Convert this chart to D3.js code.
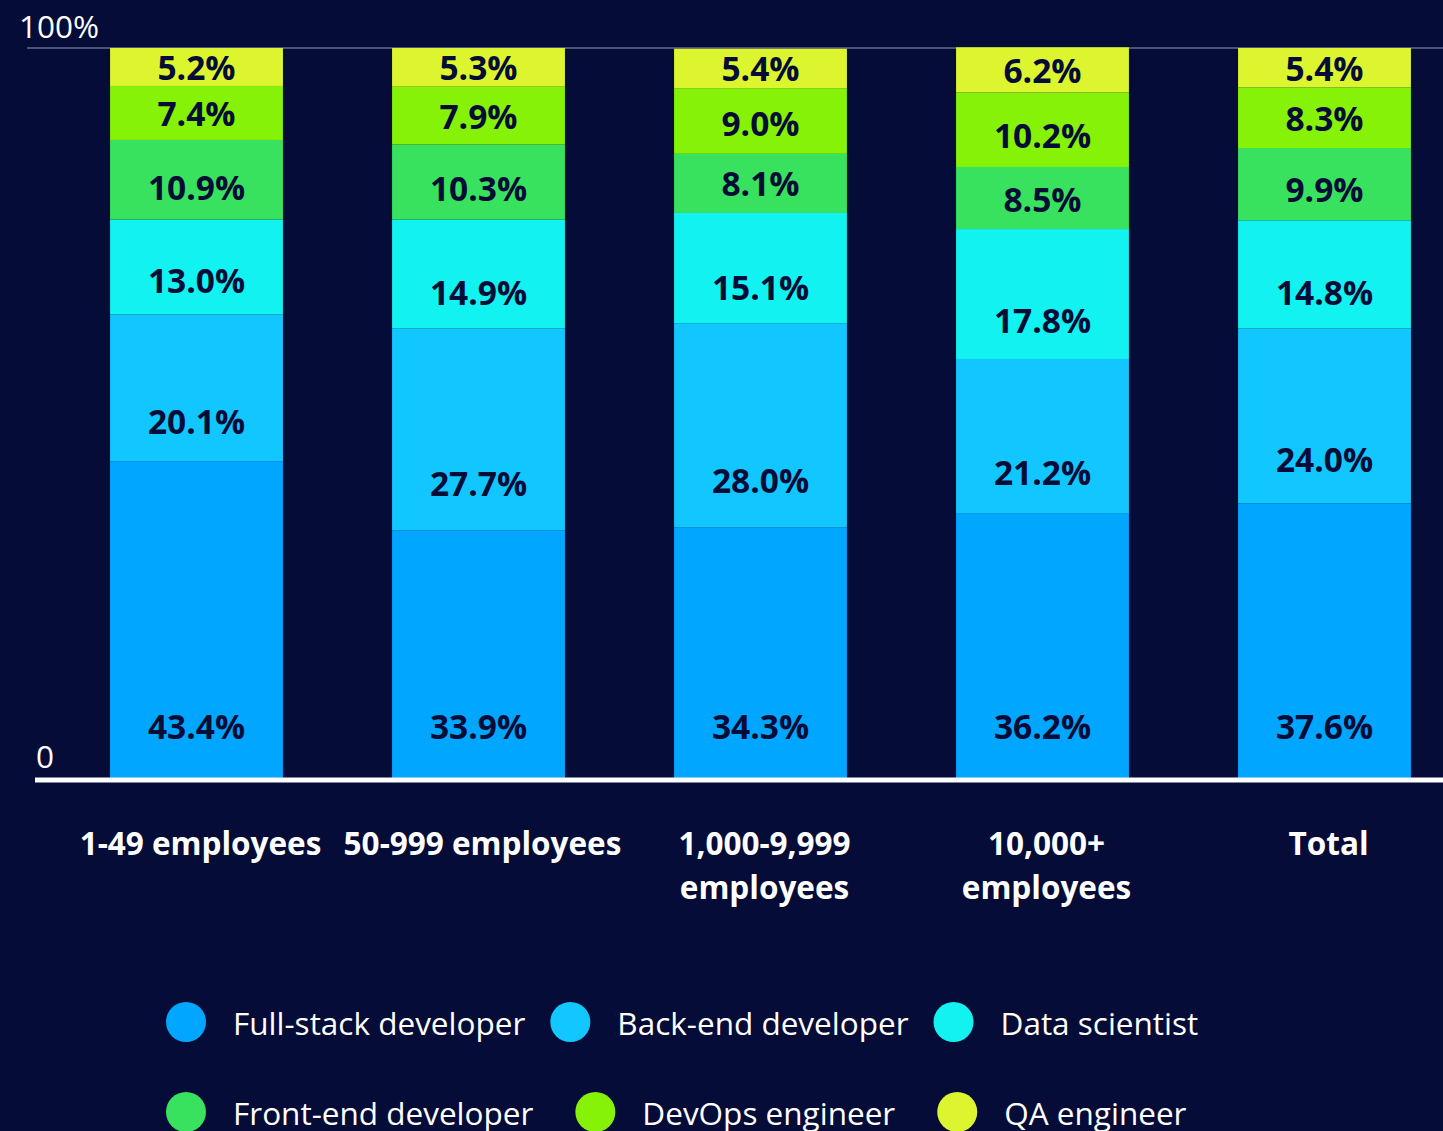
<!DOCTYPE html>
<html>
<head>
<meta charset="utf-8">
<script src="https://cdn.jsdelivr.net/npm/d3@7"></script>
<style>
  html, body { margin: 0; padding: 0; background: #040c37; }
  svg { display: block; font-family: "Open Sans", "Noto Sans", sans-serif; }
</style>
</head>
<body>
<div id="chart"></div>
<script>
const categories = ['1-49 employees', '50-999 employees', '1,000-9,999 employees', '10,000+ employees', 'Total'];
const roles = ['Full-stack developer', 'Back-end developer', 'Data scientist', 'Front-end developer', 'DevOps engineer', 'QA engineer'];

// share of each role per company size, same order as categories
const fullStack = [43.4, 33.9, 34.3, 36.2, 37.6];
const backEnd = [20.1, 27.7, 28.0, 21.2, 24.0];
const dataScientist = [13.0, 14.9, 15.1, 17.8, 14.8];
const frontEnd = [10.9, 10.3, 8.1, 8.5, 9.9];
const devOps = [7.4, 7.9, 9.0, 10.2, 8.3];
const qa = [5.2, 5.3, 5.4, 6.2, 5.4];

const yTicks = [0, 100];
const yTickLabels = ['0', '100%'];

const colors = ['#00a6ff', '#12c6ff', '#12f2f0', '#38e25e', '#85f208', '#dcf52e'];

const width = 1443, height = 1131;
const bg = '#040c37';
const inkDark = '#050c36';
const fontSize = 31.5;

const series = [fullStack, backEnd, dataScientist, frontEnd, devOps, qa];
const table = categories.map((c, i) => {
  const row = { cat: c };
  roles.forEach((r, j) => { row[r] = series[j][i]; });
  return row;
});

const stacked = d3.stack().keys(roles)(table);

const x = d3.scaleBand()
  .domain(categories)
  .range([55.5, 1465.5])
  .paddingInner(0.387)
  .paddingOuter(0.1935);

const y = d3.scaleLinear().domain([0, 100]).range([778, 48]);

// label sits near the bottom of its segment, roughly centred in short ones
const labelOffset = d3.scaleLinear().domain([0, 60, 240]).range([0, 30, 52]).clamp(true);

const svg = d3.select('#chart').append('svg')
  .attr('width', width)
  .attr('height', height)
  .style('background', bg);

// top grid line
svg.append('line')
  .attr('x1', 27).attr('x2', width)
  .attr('y1', y(100)).attr('y2', y(100))
  .attr('stroke', '#4d5275')
  .attr('stroke-width', 2);

// tick labels
svg.selectAll('text.ytick')
  .data(yTicks)
  .join('text')
  .attr('class', 'ytick')
  .attr('x', d => d === 0 ? 36 : 19)
  .attr('y', d => y(d) - 10)
  .attr('fill', '#ffffff')
  .attr('font-size', fontSize)
  .text((d, i) => yTickLabels[i]);

// bars
const layer = svg.selectAll('g.layer')
  .data(stacked)
  .join('g')
  .attr('class', 'layer')
  .attr('fill', (d, i) => colors[i]);

layer.selectAll('rect')
  .data(d => d)
  .join('rect')
  .attr('x', d => x(d.data.cat))
  .attr('width', x.bandwidth())
  .attr('y', d => y(d[1]))
  .attr('height', d => y(d[0]) - y(d[1]));

layer.selectAll('text')
  .data(d => d)
  .join('text')
  .attr('x', d => x(d.data.cat) + x.bandwidth() / 2)
  .attr('y', d => y(d[0]) - labelOffset(y(d[0]) - y(d[1])))
  .attr('text-anchor', 'middle')
  .attr('dominant-baseline', 'central')
  .attr('fill', inkDark)
  .attr('font-size', 33.5)
  .attr('font-weight', 700)
  .text(d => (d[1] - d[0]).toFixed(1) + '%');

// baseline
svg.append('line')
  .attr('x1', 35).attr('x2', width)
  .attr('y1', y(0) + 2).attr('y2', y(0) + 2)
  .attr('stroke', '#ffffff')
  .attr('stroke-width', 5);

// category labels, wrapped to the band step
const catText = svg.selectAll('text.cat')
  .data(categories)
  .join('text')
  .attr('class', 'cat')
  .attr('x', d => x(d) + x.bandwidth() / 2 + 4)
  .attr('y', 855)
  .attr('text-anchor', 'middle')
  .attr('fill', '#ffffff')
  .attr('font-size', fontSize)
  .attr('font-weight', 700);

catText.each(function (d) {
  const el = d3.select(this);
  const words = d.split(' ');
  let line = [];
  let tspan = el.append('tspan').attr('x', el.attr('x')).attr('dy', 0);
  words.forEach(w => {
    line.push(w);
    tspan.text(line.join(' '));
    if (tspan.node().getComputedTextLength() > 282 && line.length > 1) {
      line.pop();
      tspan.text(line.join(' '));
      line = [w];
      tspan = el.append('tspan').attr('x', el.attr('x')).attr('dy', 44).text(w);
    }
  });
});

// legend, flowing left to right in two rows (second row runs off the bottom, as in the original)
const legendRows = [[0, 1, 2], [3, 4, 5]];
legendRows.forEach((row, ri) => {
  let cx = 186;
  const cy = 1022 + ri * 90;
  row.forEach(k => {
    const g = svg.append('g').attr('class', 'legend-item');
    g.append('circle')
      .attr('cx', cx).attr('cy', cy).attr('r', 20)
      .attr('fill', colors[k]);
    const t = g.append('text')
      .attr('x', cx + 47)
      .attr('y', cy)
      .attr('dominant-baseline', 'central')
      .attr('fill', '#ffffff')
      .attr('font-size', fontSize)
      .text(roles[k]);
    cx = cx + 47 + t.node().getComputedTextLength() + (ri === 0 ? 45 : 62);
  });
});
</script>
</body>
</html>
